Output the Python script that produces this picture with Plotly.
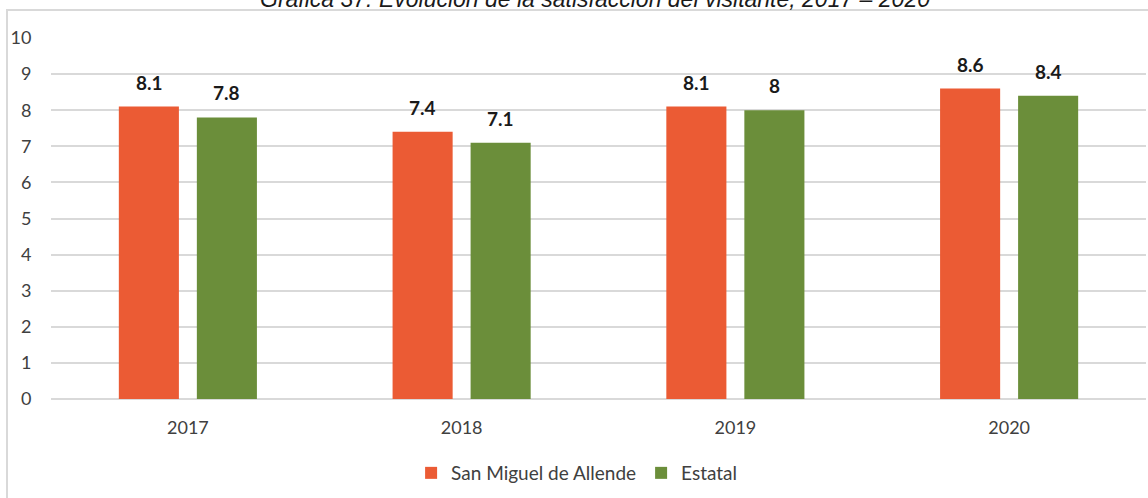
import plotly.graph_objects as go

years = ["2017", "2018", "2019", "2020"]
san_miguel = [8.1, 7.4, 8.1, 8.6]
estatal = [7.8, 7.1, 8.0, 8.4]
y_ticks = [0, 1, 2, 3, 4, 5, 6, 7, 8, 9, 10]

ORANGE = "#EB5B34"
GREEN = "#6B8E3A"
TICK_COLOR = "#404040"
FONT = "Lato"

fig = go.Figure()
fig.add_trace(go.Bar(name="San Miguel de Allende", x=years, y=san_miguel,
                     marker=dict(color=ORANGE, line=dict(width=0))))
fig.add_trace(go.Bar(name="Estatal", x=years, y=estatal,
                     marker=dict(color=GREEN, line=dict(width=0))))

# value labels above each bar (bar centres sit at +/-0.142 of a category)
annotations = []
for i, yr in enumerate(years):
    for val, off in ((san_miguel[i], -0.142), (estatal[i], 0.142)):
        annotations.append(dict(
            x=i + off, y=val, xref="x", yref="y",
            text="<b>%g</b>" % val, showarrow=False,
            yanchor="bottom", yshift=11,
            font=dict(family=FONT, size=19, color="#1a1a1a")))

# chart heading, partly clipped by the top of the page
annotations.append(dict(
    x=0.497, y=1.066, xref="paper", yref="paper",
    text="<i>Gráfica 37. Evolución de la satisfacción del visitante, 2017 – 2020</i>",
    showarrow=False, xanchor="center", yanchor="bottom",
    font=dict(family="Liberation Sans", size=23, color="#1a1a1a")))

fig.update_layout(
    width=1148, height=498,
    margin=dict(l=51, r=2, t=38, b=99),
    paper_bgcolor="white", plot_bgcolor="white",
    barmode="group", bargap=0.43, bargroupgap=0.23,
    font=dict(family=FONT, size=18, color=TICK_COLOR),
    showlegend=True,
    legend=dict(orientation="h", x=0.48, xanchor="center", y=-0.205, yanchor="middle",
                font=dict(family=FONT, size=19, color=TICK_COLOR),
                itemwidth=30, traceorder="normal"),
    annotations=annotations,
    shapes=[dict(type="rect", xref="paper", yref="paper",
                 x0=-0.0402, x1=1.01, y0=-0.3, y1=1.0776,
                 line=dict(color="#d9d9d9", width=2), layer="below")],
)
fig.update_xaxes(showgrid=False, showline=False, ticks="outside", ticklen=12,
                 tickcolor="rgba(0,0,0,0)", tickfont=dict(family=FONT, size=18, color=TICK_COLOR))
fig.update_yaxes(range=[0, 10], tickvals=y_ticks, showgrid=True, gridcolor="#d9d9d9",
                 gridwidth=2, zeroline=True, zerolinecolor="#d9d9d9", zerolinewidth=2,
                 showline=False, ticks="outside", ticklen=15, tickcolor="rgba(0,0,0,0)",
                 tickfont=dict(family=FONT, size=18, color=TICK_COLOR))

fig.write_html("out.html")
